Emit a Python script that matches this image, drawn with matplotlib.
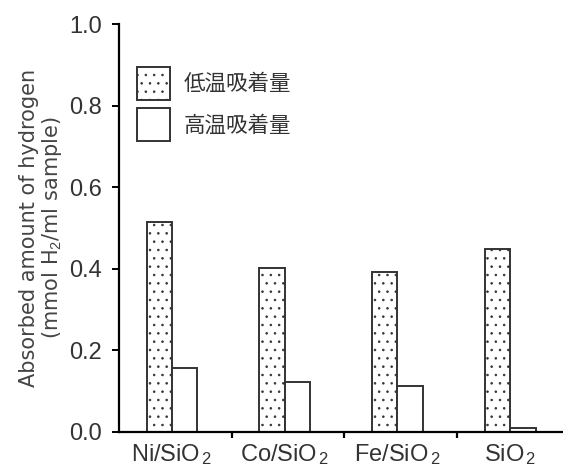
import matplotlib
matplotlib.use("Agg")
import matplotlib.pyplot as plt
import numpy as np

# 試料と水素吸着量 (mmol H2/ml sample)
samples = ["Ni/SiO$_{\\,2}$", "Co/SiO$_{\\,2}$", "Fe/SiO$_{\\,2}$", "SiO$_{\\,2}$"]
low_temp = [0.515, 0.403, 0.391, 0.449]    # 低温吸着量
high_temp = [0.158, 0.123, 0.112, 0.010]   # 高温吸着量
yticks = [0.0, 0.2, 0.4, 0.6, 0.8, 1.0]

plt.rcParams['font.family'] = ['Liberation Sans', 'Noto Sans CJK JP', 'DejaVu Sans']
plt.rcParams['mathtext.fontset'] = 'custom'
plt.rcParams['mathtext.rm'] = 'Liberation Sans'
plt.rcParams['mathtext.it'] = 'Liberation Sans'
plt.rcParams['hatch.linewidth'] = 0.6

fig = plt.figure(figsize=(5.63, 4.67), dpi=100)
ax = fig.add_axes([0.2114, 0.075, 0.7886, 0.8736])

x = np.arange(len(samples))
w = 0.226
edge = '#333333'
ax.bar(x - w / 2, low_temp, w, color='white', edgecolor=edge, hatch='..',
       linewidth=1.4, label='低温吸着量')
ax.bar(x + w / 2, high_temp, w, color='white', edgecolor=edge,
       linewidth=1.4, label='高温吸着量')

ax.set_xlim(-0.47, 3.47)
ax.set_ylim(0, 1.0)

# 軸
for s in ['top', 'right']:
    ax.spines[s].set_visible(False)
ax.spines['left'].set_linewidth(1.6)
ax.spines['bottom'].set_linewidth(1.6)

ax.set_yticks(yticks)
ax.set_yticklabels([f"{v:.1f}" for v in yticks], fontsize=17, color='#333333')
ax.tick_params(axis='y', direction='out', length=5, width=1.4, pad=7)

# 区切りの目盛と試料名
ax.set_xticks([0.53, 1.53, 2.53])
ax.set_xticklabels([])
ax.tick_params(axis='x', which='major', direction='out', length=4, width=1.6)
ax.set_xticks(x, minor=True)
ax.set_xticklabels(samples, minor=True, fontsize=17, color='#333333')
ax.tick_params(axis='x', which='minor', length=0, pad=7)

ax.set_ylabel("Absorbed amount of hydrogen\n(mmol H$_2$/ml sample)",
              family='DejaVu Sans', fontsize=15, color='#444444',
              labelpad=4, linespacing=1.05)

leg = ax.legend(loc='upper left', bbox_to_anchor=(0.0405, 0.895), frameon=False,
                fontsize=15.5, handlelength=1.53, handleheight=1.985,
                handletextpad=0.65, labelspacing=0.39, borderaxespad=0,
                borderpad=0)
for t in leg.get_texts():
    t.set_color('#333333')

fig.savefig("out.png", dpi=100)
